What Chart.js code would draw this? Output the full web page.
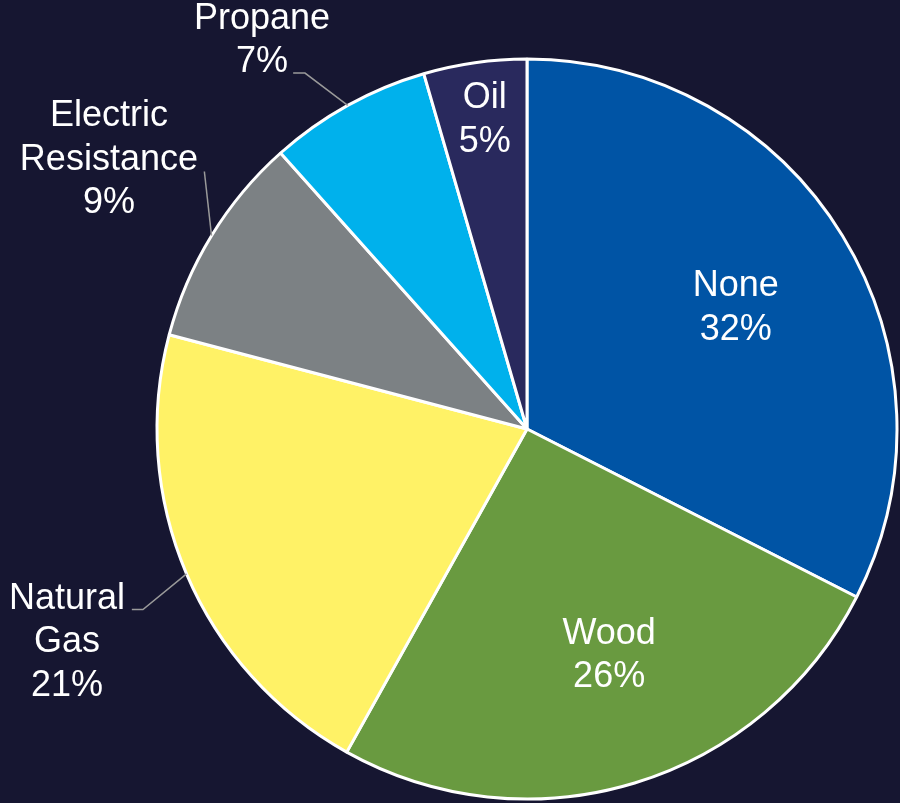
<!DOCTYPE html>
<html>
<head>
<meta charset="utf-8">
<script src="https://cdn.jsdelivr.net/npm/chart.js@4.4.1/dist/chart.umd.min.js"></script>
<style>
  html, body { margin: 0; padding: 0; background: #161631; }
  #wrap { width: 900px; height: 803px; position: relative; }
</style>
</head>
<body>
<div id="wrap"><canvas id="c" width="900" height="803"></canvas></div>
<script>
// Data
const categories = ['None', 'Wood', 'Natural Gas', 'Electric Resistance', 'Propane', 'Oil'];
const shares = [32.5, 25.6, 21.0, 9.3, 7.1, 4.5];
const percentLabels = ['32%', '26%', '21%', '9%', '7%', '5%'];
const labelLines = [['None'], ['Wood'], ['Natural', 'Gas'], ['Electric', 'Resistance'], ['Propane'], ['Oil']];

const colors = ['#0054a5', '#699a40', '#fff266', '#7c8184', '#00b1ec', '#29295d'];

// Label placement (in units of the pie radius, relative to the pie centre)
const labelPlacement = [
  { dx: 0.564, dy: -0.335 },
  { dx: 0.222, dy: 0.605 },
  { dx: -1.243, dy: 0.568, leader: [[-1.068, 0.488], [-1.038, 0.488]] },
  { dx: -1.130, dy: -0.735, leader: [[-0.872, -0.696]] },
  { dx: -0.716, dy: -1.058, leader: [[-0.632, -0.962], [-0.600, -0.962]] },
  { dx: -0.114, dy: -0.843 }
];

const FONT_SIZE = 36;
const LINE_H = 43.5;

const labelPlugin = {
  id: 'sliceLabels',
  afterDatasetsDraw(chart) {
    const ctx = chart.ctx;
    const meta = chart.getDatasetMeta(0);
    meta.data.forEach((arc, i) => {
      const p = arc.getProps(['x', 'y', 'startAngle', 'endAngle', 'outerRadius'], true);
      const r = p.outerRadius;
      const mid = (p.startAngle + p.endAngle) / 2;
      const pl = labelPlacement[i];
      const cx = p.x + pl.dx * r;
      const cy = p.y + pl.dy * r;
      ctx.save();
      if (pl.leader) {
        ctx.strokeStyle = '#9a9a9a';
        ctx.lineWidth = 1.5;
        ctx.beginPath();
        pl.leader.forEach((pt, k) => {
          const x = p.x + pt[0] * r, y = p.y + pt[1] * r;
          if (k === 0) ctx.moveTo(x, y); else ctx.lineTo(x, y);
        });
        ctx.lineTo(p.x + Math.cos(mid) * r, p.y + Math.sin(mid) * r);
        ctx.stroke();
      }
      const lines = labelLines[i].concat([percentLabels[i]]);
      ctx.fillStyle = '#ffffff';
      ctx.font = FONT_SIZE + 'px "Liberation Sans", Arial, sans-serif';
      ctx.textAlign = 'center';
      ctx.textBaseline = 'alphabetic';
      const capH = FONT_SIZE * 0.716;
      const n = lines.length;
      lines.forEach((t, k) => {
        const by = cy + (k - (n - 1) / 2) * LINE_H + capH / 2;
        ctx.fillText(t, cx, by);
      });
      ctx.restore();
    });
  }
};

new Chart(document.getElementById('c'), {
  type: 'pie',
  data: {
    labels: categories,
    datasets: [{
      data: shares,
      backgroundColor: colors,
      borderColor: '#ffffff',
      borderWidth: 3
    }]
  },
  options: {
    responsive: false,
    animation: false,
    radius: 370,
    layout: { padding: { left: 157, right: 3, top: 57, bottom: 2 } },
    plugins: {
      legend: { display: false },
      tooltip: { enabled: false }
    }
  },
  plugins: [labelPlugin]
});
</script>
</body>
</html>
